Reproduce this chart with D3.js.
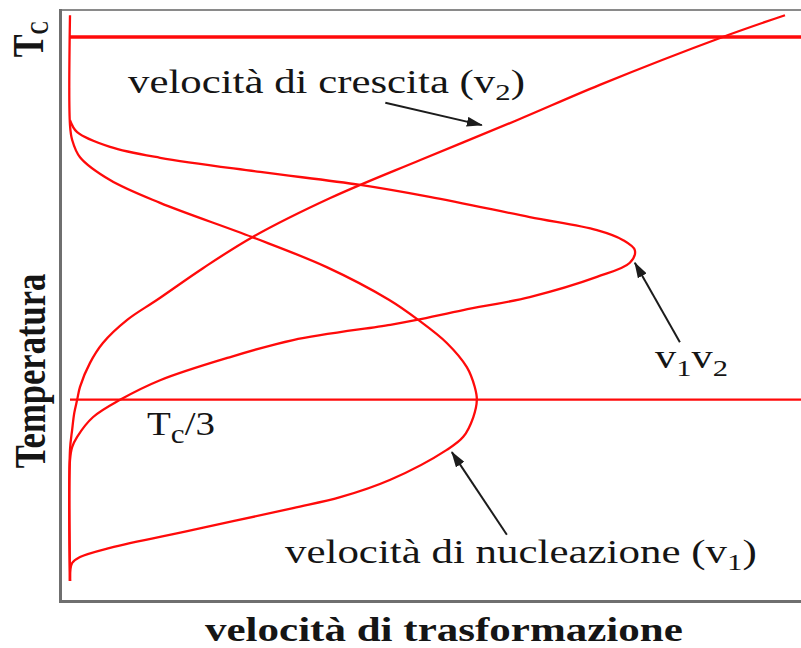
<!DOCTYPE html>
<html>
<head>
<meta charset="utf-8">
<script src="https://cdn.jsdelivr.net/npm/d3@7"></script>
<style>
  html, body { margin: 0; padding: 0; background: #fff; }
  svg { display: block; }
  text { font-family: "Liberation Serif", "Times New Roman", serif; fill: #151515; }
</style>
</head>
<body>
<svg id="chart" width="801" height="648"></svg>
<script>
// Temperature is expressed as a fraction of Tc, rates in arbitrary units (0–100).

// nucleation rate v1
const nucleationT    = [0, 0.033, 0.044, 0.061, 0.094, 0.134, 0.154, 0.186, 0.241, 0.265, 0.301, 0.333, 0.357, 0.393, 0.4375, 0.480, 0.517, 0.577, 0.632, 0.695, 0.737, 0.779, 0.811, 0.838, 1.04];
const nucleationRate = [0, 0.3,   1.4,   5.6,   17.2,  31.2,  37.8,  44.8,  52.7,  55.0,  56.4,  56.9,  56.6,  55.5,  52.7,   48.7,  44.6,  35.9,  25.5,  12.6,  5.6,   1.4,   0.3,   0,     0];

// growth rate v2
const growthT    = [0, 0.241, 0.278, 0.309, 0.333, 0.357, 0.401, 0.4375, 0.480, 0.517, 0.575, 0.632, 0.704, 0.774, 0.847, 0.912, 1.0,  1.04];
const growthRate = [0, 0,     0.3,   0.6,   1.0,   1.4,   2.8,   4.6,    8.0,   12.2,  18.6,  25.5,  36.4,  49.0,  62.5,  74.1,  91.3, 100];

// overall transformation rate v1·v2
const productT    = [0, 0.222, 0.246, 0.265, 0.301, 0.333, 0.369, 0.410, 0.443, 0.471, 0.480, 0.498, 0.522, 0.559, 0.585, 0.608, 0.627, 0.645, 0.669, 0.706, 0.728, 0.752, 0.778, 0.798, 0.825, 0.847];
const productRate = [0, 0,     0.3,   1.0,   3.2,   7.0,   12.6,  22.0,  31.2,  44.8,  48.5,  55.0,  64.3,  73.7,  78.3,  79.0,  77.3,  73.7,  64.3,  50.3,  40.6,  26.6,  12.6,  5.6,   1.0,   0];

// reference temperatures: Tc and Tc/3
const refTemps = [1, 1 / 3];

const W = 801, H = 648;
const svg = d3.select("#chart");

const x = d3.scaleLinear().domain([0, 100]).range([70, 785]);
const y = d3.scaleLinear().domain([0, 1]).range([581, 37]);

const RED = "#ff0a0a";

// plot frame (left, top and bottom edges)
const frame = svg.append("g").attr("fill", "none");
frame.append("line").attr("x1", 61).attr("x2", W).attr("y1", 10).attr("y2", 10)
  .attr("stroke", "#8a8a8a").attr("stroke-width", 2);
frame.append("line").attr("x1", 60.5).attr("x2", 60.5).attr("y1", 9).attr("y2", 602)
  .attr("stroke", "#6f6f6f").attr("stroke-width", 3);
frame.append("line").attr("x1", 59).attr("x2", W).attr("y1", 601.5).attr("y2", 601.5)
  .attr("stroke", "#6f6f6f").attr("stroke-width", 3);

// horizontal reference lines at Tc and Tc/3
svg.append("g").selectAll("line").data(refTemps).join("line")
  .attr("x1", x(0)).attr("x2", W)
  .attr("y1", d => y(d)).attr("y2", d => y(d))
  .attr("stroke", RED)
  .attr("stroke-width", (d, i) => i === 0 ? 3.5 : 2.2);

// rate curves: rate as a function of temperature
const pairs = (T, R) => T.map((t, i) => [t, R[i]]).sort((a, b) => b[0] - a[0]);
const curve = d3.line()
  .x(d => x(Math.max(0, d[1])))
  .y(d => y(d[0]))
  .curve(d3.curveCatmullRom.alpha(0.5));

const series = [
  pairs(nucleationT, nucleationRate),
  pairs(productT, productRate),
  pairs(growthT, growthRate)
];
svg.append("g").selectAll("path").data(series).join("path")
  .attr("d", curve)
  .attr("fill", "none")
  .attr("stroke", RED)
  .attr("stroke-width", 2.3)
  .attr("stroke-linejoin", "round");

// arrowheads
svg.append("defs").append("marker")
  .attr("id", "head")
  .attr("markerUnits", "userSpaceOnUse")
  .attr("markerWidth", 16).attr("markerHeight", 10)
  .attr("refX", 15).attr("refY", 5)
  .attr("orient", "auto")
  .append("path").attr("d", "M0,0 L16,5 L0,10 Z").attr("fill", "#1c1c1c");

// annotation arrows: [tail rate, tail T, tip rate, tip T]
const arrows = [
  [44.1, 0.879, 57.6, 0.838],   // growth
  [85.3, 0.439, 79.0, 0.585],   // v1·v2
  [61.1, 0.085, 53.4, 0.237]    // nucleation
];
svg.append("g").selectAll("line").data(arrows).join("line")
  .attr("x1", d => x(d[0])).attr("y1", d => y(d[1]))
  .attr("x2", d => x(d[2])).attr("y2", d => y(d[3]))
  .attr("stroke", "#1c1c1c").attr("stroke-width", 2)
  .attr("marker-end", "url(#head)");

// text helper: label with optional subscripts, stretched horizontally to a given width
function label(parts, px, py, size, width, bold) {
  const g = svg.append("g");
  const t = g.append("text")
    .attr("font-size", size)
    .attr("font-weight", bold ? "bold" : "normal");
  let shift = 0;
  parts.forEach(p => {
    const span = t.append("tspan");
    if (typeof p === "string") {
      span.text(p).attr("dy", -shift);
      shift = 0;
    } else {
      span.text(p.sub).attr("font-size", size * (p.scale || 0.72)).attr("dy", p.dy - shift);
      shift = p.dy;
    }
  });
  const w = t.node().getBBox().width;
  g.attr("transform", `translate(${px},${py}) scale(${width / w},1)`);
  return g;
}

label(["velocità di crescita (v", {sub: "2", dy: 7}, ")"], 128, 93, 33, 397, false);
label(["v", {sub: "1", dy: 8}, "v", {sub: "2", dy: 8}], 655, 368, 33, 73, false);
label(["T", {sub: "c", dy: 8, scale: 0.8}, "/3"], 147, 435, 33, 68, false);
label(["velocità di nucleazione (v", {sub: "1", dy: 7}, ")"], 285, 563, 33, 472, false);
label(["velocità di trasformazione"], 205, 641, 33, 478, true);

// vertical axis labels
svg.append("text")
  .attr("transform", `translate(45,371) scale(1.3,1) rotate(-90)`)
  .attr("text-anchor", "middle")
  .attr("font-size", 34.6)
  .attr("font-weight", "bold")
  .text("Temperatura");

const tc = svg.append("text")
  .attr("transform", `translate(43,${y(1) + 2}) scale(1.3,1) rotate(-90)`)
  .attr("text-anchor", "middle")
  .attr("font-size", 34)
  .attr("font-weight", "bold");
tc.append("tspan").text("T");
tc.append("tspan").text("C").attr("font-size", 19).attr("dy", 4);
</script>
</body>
</html>
